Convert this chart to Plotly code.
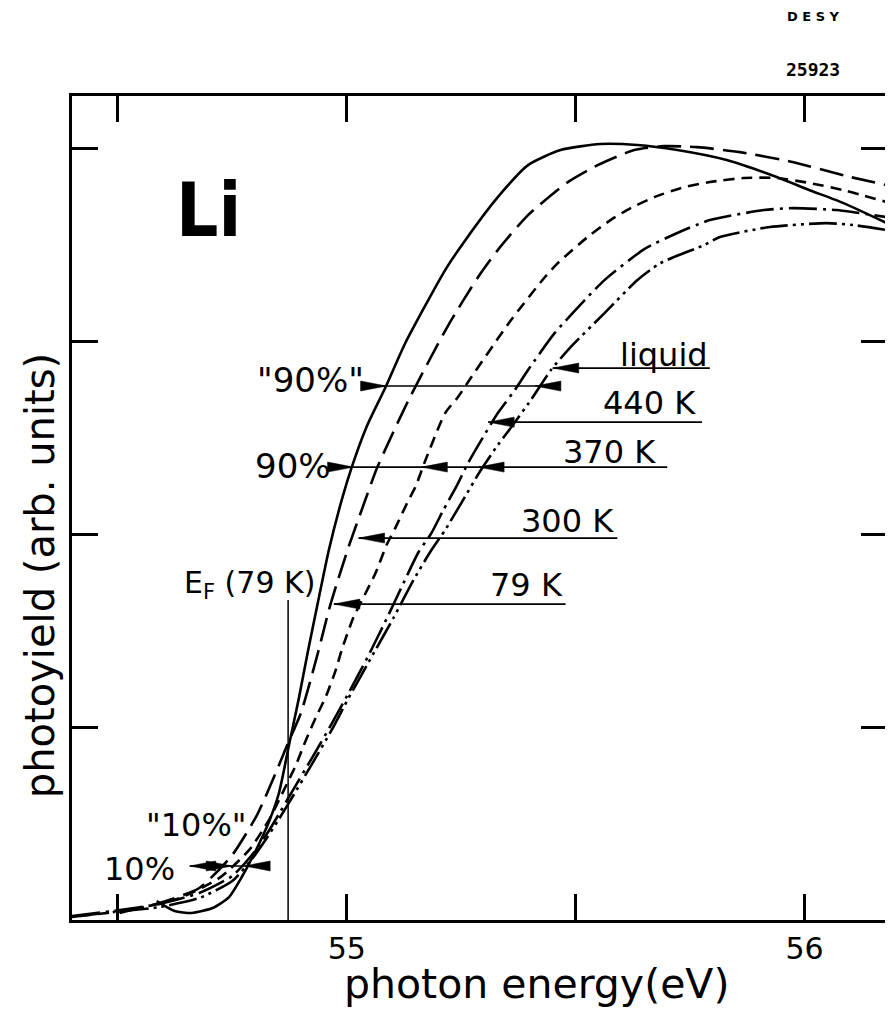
import plotly.graph_objects as go

# ---------------- data (photon energy in eV, photoyield in arb. units) ----------------
solid_x = [54.585, 54.624, 54.661, 54.707, 54.743, 54.772, 54.802, 54.830, 54.852, 54.874,
           54.896, 54.915, 54.935, 54.961, 54.989, 55.011, 55.043, 55.085, 55.128, 55.215,
           55.259, 55.330, 55.396, 55.467, 55.554, 55.635, 55.722, 55.830, 55.939, 56.011,
           56.085, 56.180]
solid_y = [0.098, 0.047, 0.036, 0.062, 0.119, 0.228, 0.363, 0.508, 0.658, 0.907,
           1.155, 1.389, 1.622, 1.917, 2.176, 2.347, 2.554, 2.762, 2.990, 3.368,
           3.523, 3.746, 3.912, 3.990, 4.021, 4.016, 3.990, 3.938, 3.850, 3.782,
           3.715, 3.611]

longdash_x = [54.504, 54.591, 54.678, 54.750, 54.804, 54.843, 54.870, 54.900, 54.937, 54.961,
              54.974, 55.004, 55.035, 55.067, 55.135, 55.222, 55.287, 55.330, 55.396, 55.483,
              55.548, 55.628, 55.693, 55.765, 55.859, 55.976, 56.091, 56.180]
longdash_y = [0.036, 0.088, 0.166, 0.337, 0.544, 0.751, 0.907, 1.073, 1.383, 1.606,
              1.710, 1.933, 2.140, 2.347, 2.694, 3.083, 3.332, 3.472, 3.653, 3.824,
              3.912, 3.990, 4.010, 4.005, 3.979, 3.927, 3.855, 3.808]

shortdash_x = [54.417, 54.526, 54.635, 54.722, 54.787, 54.830, 54.863, 54.889, 54.911, 54.933,
               54.954, 54.976, 54.989, 55.015, 55.037, 55.063, 55.087, 55.107, 55.135, 55.150,
               55.172, 55.215, 55.243, 55.272, 55.359, 55.433, 55.461, 55.526, 55.576, 55.620,
               55.672, 55.737, 55.793, 55.867, 55.939, 56.011, 56.085, 56.180]
shortdash_y = [0.021, 0.052, 0.114, 0.218, 0.363, 0.518, 0.674, 0.803, 0.933, 1.052,
               1.155, 1.295, 1.399, 1.570, 1.674, 1.798, 1.943, 2.036, 2.176, 2.244,
               2.383, 2.627, 2.710, 2.813, 3.109, 3.332, 3.404, 3.539, 3.627, 3.689,
               3.746, 3.798, 3.824, 3.845, 3.845, 3.819, 3.782, 3.720]

dashdot_x = [54.400, 54.489, 54.591, 54.678, 54.750, 54.793, 54.824, 54.852, 54.880, 54.924,
             54.967, 55.004, 55.048, 55.091, 55.124, 55.157, 55.185, 55.211, 55.239, 55.265,
             55.298, 55.330, 55.367, 55.396, 55.454, 55.526, 55.563, 55.650, 55.722, 55.793,
             55.911, 55.976, 56.070, 56.107, 56.180]
dashdot_y = [0.021, 0.047, 0.083, 0.140, 0.228, 0.337, 0.440, 0.549, 0.663, 0.839,
             1.016, 1.176, 1.373, 1.580, 1.746, 1.907, 2.005, 2.124, 2.244, 2.368,
             2.503, 2.627, 2.746, 2.850, 3.041, 3.228, 3.316, 3.477, 3.560, 3.627,
             3.679, 3.689, 3.679, 3.668, 3.642]

dashdotdot_x = [54.400, 54.489, 54.591, 54.678, 54.750, 54.793, 54.824, 54.852, 54.880, 54.924,
                54.967, 55.004, 55.048, 55.102, 55.146, 55.185, 55.215, 55.254, 55.293, 55.330,
                55.363, 55.402, 55.446, 55.489, 55.563, 55.635, 55.685, 55.780, 55.815, 55.924,
                56.048, 56.107, 56.180]
dashdotdot_y = [0.016, 0.041, 0.067, 0.114, 0.202, 0.316, 0.420, 0.523, 0.632, 0.808,
                0.984, 1.150, 1.337, 1.565, 1.762, 1.917, 2.021, 2.176, 2.332, 2.461,
                2.565, 2.694, 2.850, 2.969, 3.145, 3.316, 3.404, 3.497, 3.539, 3.591,
                3.611, 3.601, 3.575]

x_tick_vals = [54.5, 55.0, 55.5, 56.0]
x_tick_text = ["", "55", "", "56"]
y_tick_vals = [1, 2, 3, 4]

# horizontal marker lines: (y level, x start, x end)
marker_lines = [
    (2.767, 55.037, 55.457),   # "90%" (quoted)
    (2.347, 54.978, 55.700),   # 90% / 370 K
    (2.860, 55.450, 55.793),   # liquid
    (2.580, 55.309, 55.776),   # 440 K
    (1.979, 55.026, 55.591),   # 300 K
    (1.637, 54.972, 55.478),   # 79 K
    (0.280, 54.657, 54.826),   # 10%
]
# arrow heads: (tip x, y level, direction)
arrow_heads = [
    (55.087, 2.767, "right"), (55.411, 2.767, "left"),
    (55.015, 2.347, "right"), (55.163, 2.347, "left"), (55.287, 2.347, "left"),
    (55.450, 2.860, "left"),
    (55.309, 2.580, "left"),
    (55.026, 1.979, "left"),
    (54.972, 1.637, "left"),
    (54.657, 0.280, "left"), (54.750, 0.280, "right"), (54.776, 0.280, "left"),
]
fermi_energy = 54.872
fermi_top = 1.658

# text labels: (text, x, y, size)
labels = [
    ("\"90%\"", 54.920, 2.80, 34),
    ("90%", 54.883, 2.355, 34),
    ("liquid", 55.693, 2.93, 32),
    ("440 K", 55.661, 2.68, 32),
    ("370 K", 55.574, 2.425, 32),
    ("300 K", 55.483, 2.07, 32),
    ("79 K", 55.393, 1.735, 32),
    ("E<sub>F</sub> (79 K)", 54.787, 1.74, 30),
    ("\"10%\"", 54.672, 0.49, 32),
    ("10%", 54.548, 0.265, 32),
]

FONT = "DejaVu Sans"

fig = go.Figure()
curves = [
    (solid_x, solid_y, "solid"),
    (longdash_x, longdash_y, "24px,9px"),
    (shortdash_x, shortdash_y, "11px,7px"),
    (dashdot_x, dashdot_y, "28px,6px,3px,6px"),
    (dashdotdot_x, dashdotdot_y, "28px,5px,3px,5px,3px,5px"),
]
for xs, ys, dash in curves:
    fig.add_trace(go.Scatter(x=xs, y=ys, mode="lines",
                             line=dict(color="black", width=2.6, dash=dash, shape="spline", smoothing=0.6),
                             showlegend=False, hoverinfo="skip"))

shapes = []
for yl, x0, x1 in marker_lines:
    shapes.append(dict(type="line", xref="x", yref="y", x0=x0, x1=x1, y0=yl, y1=yl,
                       line=dict(color="black", width=1.6)))
for xt, yl, d in arrow_heads:
    path = "M0,0 L26,5 L26,-5 Z" if d == "left" else "M0,0 L-26,5 L-26,-5 Z"
    shapes.append(dict(type="path", xref="x", yref="y", xsizemode="pixel", ysizemode="pixel",
                       xanchor=xt, yanchor=yl, path=path, fillcolor="black",
                       line=dict(color="black", width=0.5)))
shapes.append(dict(type="line", xref="x", yref="y", x0=fermi_energy, x1=fermi_energy,
                   y0=0, y1=fermi_top, line=dict(color="black", width=1.5)))

annotations = []
for txt, x, y, s in labels:
    annotations.append(dict(text=txt, x=x, y=y, xref="x", yref="y", showarrow=False,
                            xanchor="center", yanchor="middle",
                            font=dict(family=FONT, size=s, color="black")))
annotations += [
    dict(text="<b>Li</b>", x=54.698, y=3.68, xref="x", yref="y", showarrow=False,
         xanchor="center", yanchor="middle",
         font=dict(family="Liberation Sans Narrow, DejaVu Sans Condensed, Liberation Sans", size=74, color="black")),
    dict(text="photon energy(eV)", x=0.570, y=-0.078, xref="paper", yref="paper", showarrow=False,
         xanchor="center", yanchor="middle",
         font=dict(family=FONT, size=41, color="black")),
    dict(text="photoyield (arb. units)", x=-0.039, y=0.4175, xref="paper", yref="paper",
         showarrow=False, textangle=-90, xanchor="center", yanchor="middle",
         font=dict(family=FONT, size=40, color="black")),
    dict(text="<b>D E S Y</b>", x=0.9095, y=1.097, xref="paper", yref="paper", showarrow=False,
         xanchor="center", yanchor="middle",
         font=dict(family=FONT, size=13, color="black")),
    dict(text="<b>25923</b>", x=0.9095, y=1.0316, xref="paper", yref="paper", showarrow=False,
         xanchor="center", yanchor="middle",
         font=dict(family="DejaVu Sans Mono", size=18, color="black")),
]

axis_common = dict(showline=True, linecolor="black", linewidth=2.6, mirror="ticks",
                   ticks="inside", ticklen=26, tickwidth=2.5, tickcolor="black",
                   showgrid=False, zeroline=False)
# page body has an 8px default margin: figure is sized/margined to compensate
fig.update_layout(
    width=885, height=1005,
    margin=dict(l=64, r=3, t=88, b=93),
    paper_bgcolor="white", plot_bgcolor="white",
    xaxis=dict(range=[54.40, 56.18], tickvals=x_tick_vals, ticktext=x_tick_text,
               tickfont=dict(family=FONT, size=30, color="black"), **axis_common),
    yaxis=dict(range=[0, 4.27], tickvals=y_tick_vals, showticklabels=False, **axis_common),
    shapes=shapes, annotations=annotations,
)

fig.write_html("out.html")
